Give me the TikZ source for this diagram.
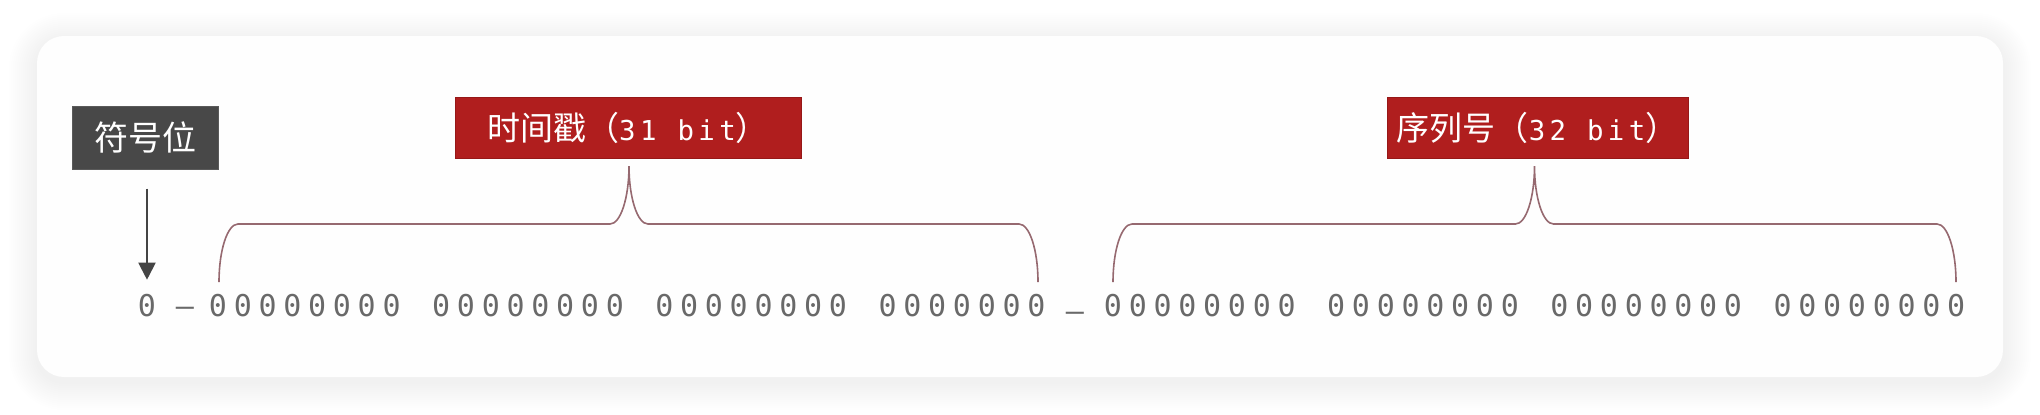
\documentclass[tikz,border=0pt]{standalone}
\usepackage{fontspec}
\newfontfamily\cjk{Noto Sans CJK SC}
\newfontfamily\bitfont{DejaVu Sans Mono}
\newfontfamily\labmono[LetterSpace=16]{DejaVu Sans Mono}
\usetikzlibrary{arrows.meta}
\definecolor{cardbg}{RGB}{254,254,254}
\definecolor{redbox}{RGB}{176,30,30}
\definecolor{redline}{RGB}{150,24,24}
\definecolor{darkbox}{RGB}{72,72,72}
\definecolor{bitgray}{RGB}{105,105,105}
\definecolor{arrgray}{RGB}{68,68,68}
\definecolor{bracecol}{RGB}{150,105,112}
\newcommand\zz{\makebox[12.4pt][c]{0}}
\newcommand\eightz{\zz\zz\zz\zz\zz\zz\zz\zz}
\newcommand\sevenz{\zz\zz\zz\zz\zz\zz\zz}
\newcommand\drawbrace[3]{%
  \draw[brc] ({#1},282) .. controls ({#1},250) and ({#1+8.5},224) .. ({#1+19},224)
    -- ({#3-19},224) .. controls ({#3-8.5},224) and ({#3},198) .. ({#3},166)
    .. controls ({#3},198) and ({#3+8.5},224) .. ({#3+19},224)
    -- ({#2-19},224) .. controls ({#2-8.5},224) and ({#2},250) .. ({#2},282);}
\tikzset{
  bits/.style={font=\bitfont\fontsize{15}{18}\selectfont, text=bitgray, inner sep=0pt,
    text height=10.9pt, text depth=0pt},
  label/.style={fill=redbox, draw=redline, line width=0.5pt, text=white, inner sep=0pt,
    minimum height=30.5pt, font=\cjk\fontsize{16.5}{18}\selectfont},
  signbox/.style={fill=darkbox, draw=darkbox!90!white, line width=0.5pt, text=white, inner sep=0pt,
    minimum width=73pt, minimum height=31.5pt, font=\cjk\fontsize{17}{19}\selectfont},
  brc/.style={draw=bracecol, line width=0.8pt},
  sarr/.style={draw=arrgray, line width=1pt, -{Triangle[width=8.5pt,length=8.5pt]}}
}
\begin{document}
\begin{tikzpicture}[x=0.5pt,y=-0.5pt]
\useasboundingbox (0,0) rectangle (2040,414);
\fill[white] (0,0) rectangle (2040,414);
% shadow
\foreach \i in {1,...,14}{
  \fill[black, opacity=0.0055, rounded corners={(13.5+\i)*1pt}]
    ({37-2*\i},{36-2*\i+5}) rectangle ({2003+2*\i},{377+2*\i+5});
}
\fill[cardbg, rounded corners=13.5pt] (37,36) rectangle (2003,377);

% labels
\node[signbox] (sign) at (145,137.5) {符号位};
\node[label, minimum width=173pt] (ts) at (628,127.5) {时间戳（{\labmono\fontsize{13.7}{16}\selectfont 31 bit}）};
\node[label, minimum width=150.5pt] (seq) at (1537.5,127.5) {序列号（{\labmono\fontsize{13.7}{16}\selectfont 32 bit}）};

% bits
\node[bits] (bit0) at (147,306) {0};
\node[bits] (d1) at (185,306) {–};
\node[bits] (g1) at (304.8,306) {\eightz};
\node[bits] (g2) at (528,306) {\eightz};
\node[bits] (g3) at (751.2,306) {\eightz};
\node[bits] (g4) at (962,306) {\sevenz};
\node[bits] (d2) at (1075,311) {–};
\node[bits] (g5) at (1199.8,306) {\eightz};
\node[bits] (g6) at (1423,306) {\eightz};
\node[bits] (g7) at (1646.2,306) {\eightz};
\node[bits] (g8) at (1869.4,306) {\eightz};

% arrow
\draw[sarr] ([yshift=-9.5pt]sign.south -| bit0.north) -- ([yshift=7.5pt]bit0.north);

% braces
\drawbrace{219}{1038}{629}
\drawbrace{1113}{1956}{1534.5}
\end{tikzpicture}
\end{document}
